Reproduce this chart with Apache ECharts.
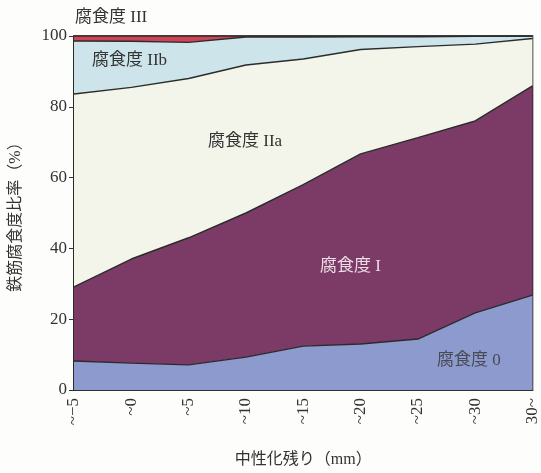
<!DOCTYPE html>
<html>
<head>
<meta charset="utf-8">
<script src="https://cdn.jsdelivr.net/npm/echarts@6/dist/echarts.min.js"></script>
<style>
html,body{margin:0;padding:0;background:#fdfdfb;}
#c{width:541px;height:473px;}
</style>
</head>
<body>
<div id="c"></div>
<script>
var categories = ['~\u22125', '~0', '~5', '~10', '~15', '~20', '~25', '~30', '30~'];
var grade0 = [8.2, 7.6, 7.1, 9.3, 12.4, 13.0, 14.4, 21.8, 26.8];
var grade1 = [20.9, 29.4, 35.9, 40.7, 45.6, 53.7, 56.9, 54.2, 59.1];
var grade2a = [54.5, 48.5, 45.0, 41.8, 35.5, 29.5, 25.7, 21.7, 13.4];
var grade2b = [15.0, 13.0, 10.2, 7.9, 6.2, 3.6, 2.8, 2.2, 0.7];
var grade3 = [1.4, 1.5, 1.8, 0.3, 0.3, 0.2, 0.2, 0.1, 0.0];
var yTicks = [0, 20, 40, 60, 80, 100];

var serif = '"Liberation Serif", "DejaVu Serif", "Noto Sans CJK JP", serif';
var lineC = '#2b2b2b';

function mk(name, data, color) {
  return {
    name: name, type: 'line', stack: 'total', data: data,
    symbol: 'none', smooth: false,
    lineStyle: {color: lineC, width: 1.4},
    areaStyle: {color: color, opacity: 1},
    itemStyle: {color: color},
    emphasis: {disabled: true}
  };
}

var chart = echarts.init(document.getElementById('c'));
chart.setOption({
  backgroundColor: '#fdfdfb',
  animation: false,
  grid: {left: 72, right: 5, top: 36, bottom: 83, show: true, borderColor: '#222', borderWidth: 1.6, backgroundColor: 'transparent'},
  xAxis: {
    type: 'category', data: categories, boundaryGap: false,
    name: '中性化残り（mm）', nameLocation: 'middle', nameGap: 62,
    nameTextStyle: {fontFamily: serif, fontSize: 16, color: '#333'},
    axisLine: {lineStyle: {color: '#222', width: 1.6}},
    axisTick: {inside: true, length: 5, lineStyle: {color: '#333'}},
    axisLabel: {rotate: 90, fontFamily: serif, fontSize: 17, color: '#333', margin: 8, interval: 0},
    splitLine: {show: false}
  },
  yAxis: {
    type: 'value', min: 0, max: 100, interval: 20,
    name: '鉄筋腐食度比率（%）', nameLocation: 'middle', nameGap: 50,
    nameTextStyle: {fontFamily: serif, fontSize: 16, color: '#333'},
    axisLine: {show: true, lineStyle: {color: '#222', width: 1.6}},
    axisTick: {show: true, inside: false, length: 5, lineStyle: {color: '#333'}},
    axisLabel: {fontFamily: serif, fontSize: 17, color: '#333', margin: 7,
      formatter: function (v) { return yTicks.indexOf(v) >= 0 ? String(v) : ''; }},
    splitLine: {show: false}
  },
  series: [
    mk('腐食度 0', grade0, '#8c9acd'),
    mk('腐食度 I', grade1, '#7c3b66'),
    mk('腐食度 IIa', grade2a, '#f3f4ea'),
    mk('腐食度 IIb', grade2b, '#cde5ea'),
    mk('腐食度 III', grade3, '#cf4457')
  ],
  graphic: {
    elements: [
      {type: 'text', z: 100, left: 75, top: 9, style: {text: '腐食度 III', font: '17px ' + serif, fill: '#333'}},
      {type: 'text', z: 100, left: 92, top: 52, style: {text: '腐食度 IIb', font: '17px ' + serif, fill: '#333'}},
      {type: 'text', z: 100, left: 208, top: 133, style: {text: '腐食度 IIa', font: '17px ' + serif, fill: '#333'}},
      {type: 'text', z: 100, left: 320, top: 258, style: {text: '腐食度 I', font: '17px ' + serif, fill: '#eddde6'}},
      {type: 'text', z: 100, left: 437, top: 352, style: {text: '腐食度 0', font: '17px ' + serif, fill: '#4a4a55'}}
    ]
  }
});
</script>
</body>
</html>
